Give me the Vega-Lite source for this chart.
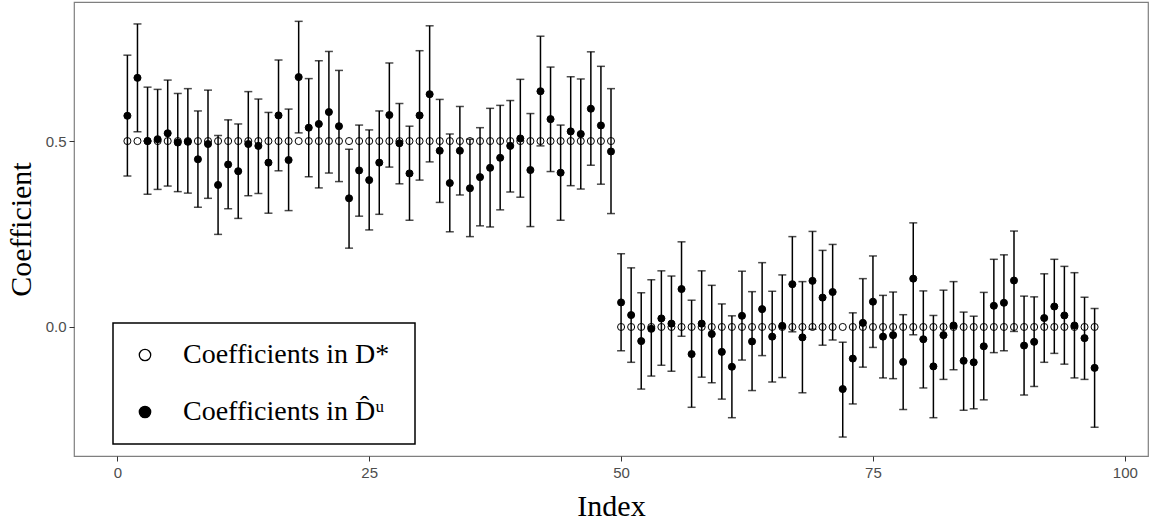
{
  "$schema": "https://vega.github.io/schema/vega-lite/v6.json",
  "width": 1074,
  "height": 454,
  "autosize": {"type": "none"},
  "padding": {"left": 74, "top": 2, "right": 2, "bottom": 68},
  "background": "white",
  "config": {
    "view": {"stroke": "#7f7f7f", "strokeWidth": 1.2},
    "axis": {
      "grid": false, "domain": false,
      "labelFont": "Liberation Sans", "labelFontSize": 15, "labelColor": "#4d4d4d",
      "tickColor": "#333333", "tickSize": 5, "tickWidth": 1,
      "titleFont": "Liberation Serif", "titleFontSize": 30, "titleFontWeight": "normal", "titleColor": "black"
    },
    "legend": {
      "orient": "none", "legendX": 39, "legendY": 321, "direction": "vertical",
      "fillColor": "white", "strokeColor": "black", "strokeWidth": 1.5,
      "padding": 18, "cornerRadius": 0,
      "labelFont": "Liberation Serif", "labelFontSize": 28, "labelColor": "black", "labelLimit": 400,
      "symbolSize": 130, "symbolStrokeWidth": 1.3, "symbolStrokeColor": "black", "symbolType": "circle",
      "rowPadding": 29, "labelOffset": 24, "symbolOffset": 0
    }
  },
  "data": {"values": [
    {"i":1,"est":0.568,"lo":0.406,"hi":0.731,"truth":0.5},
    {"i":2,"est":0.670,"lo":0.525,"hi":0.815,"truth":0.5},
    {"i":3,"est":0.500,"lo":0.357,"hi":0.645,"truth":0.5},
    {"i":4,"est":0.505,"lo":0.370,"hi":0.639,"truth":0.5},
    {"i":5,"est":0.521,"lo":0.379,"hi":0.664,"truth":0.5},
    {"i":6,"est":0.496,"lo":0.364,"hi":0.628,"truth":0.5},
    {"i":7,"est":0.498,"lo":0.360,"hi":0.641,"truth":0.5},
    {"i":8,"est":0.451,"lo":0.322,"hi":0.581,"truth":0.5},
    {"i":9,"est":0.492,"lo":0.346,"hi":0.637,"truth":0.5},
    {"i":10,"est":0.382,"lo":0.249,"hi":0.515,"truth":0.5},
    {"i":11,"est":0.437,"lo":0.318,"hi":0.557,"truth":0.5},
    {"i":12,"est":0.419,"lo":0.292,"hi":0.546,"truth":0.5},
    {"i":13,"est":0.492,"lo":0.353,"hi":0.633,"truth":0.5},
    {"i":14,"est":0.487,"lo":0.359,"hi":0.613,"truth":0.5},
    {"i":15,"est":0.442,"lo":0.306,"hi":0.577,"truth":0.5},
    {"i":16,"est":0.569,"lo":0.420,"hi":0.718,"truth":0.5},
    {"i":17,"est":0.449,"lo":0.313,"hi":0.586,"truth":0.5},
    {"i":18,"est":0.672,"lo":0.522,"hi":0.822,"truth":0.5},
    {"i":19,"est":0.536,"lo":0.404,"hi":0.668,"truth":0.5},
    {"i":20,"est":0.546,"lo":0.374,"hi":0.716,"truth":0.5},
    {"i":21,"est":0.578,"lo":0.414,"hi":0.741,"truth":0.5},
    {"i":22,"est":0.540,"lo":0.391,"hi":0.690,"truth":0.5},
    {"i":23,"est":0.346,"lo":0.212,"hi":0.478,"truth":0.5},
    {"i":24,"est":0.421,"lo":0.298,"hi":0.543,"truth":0.5},
    {"i":25,"est":0.395,"lo":0.261,"hi":0.530,"truth":0.5},
    {"i":26,"est":0.442,"lo":0.303,"hi":0.581,"truth":0.5},
    {"i":27,"est":0.570,"lo":0.430,"hi":0.710,"truth":0.5},
    {"i":28,"est":0.494,"lo":0.385,"hi":0.601,"truth":0.5},
    {"i":29,"est":0.413,"lo":0.287,"hi":0.540,"truth":0.5},
    {"i":30,"est":0.569,"lo":0.395,"hi":0.743,"truth":0.5},
    {"i":31,"est":0.626,"lo":0.444,"hi":0.810,"truth":0.5},
    {"i":32,"est":0.474,"lo":0.335,"hi":0.612,"truth":0.5},
    {"i":33,"est":0.387,"lo":0.256,"hi":0.519,"truth":0.5},
    {"i":34,"est":0.474,"lo":0.355,"hi":0.593,"truth":0.5},
    {"i":35,"est":0.373,"lo":0.243,"hi":0.505,"truth":0.5},
    {"i":36,"est":0.403,"lo":0.272,"hi":0.536,"truth":0.5},
    {"i":37,"est":0.428,"lo":0.269,"hi":0.588,"truth":0.5},
    {"i":38,"est":0.455,"lo":0.315,"hi":0.596,"truth":0.5},
    {"i":39,"est":0.487,"lo":0.363,"hi":0.609,"truth":0.5},
    {"i":40,"est":0.507,"lo":0.349,"hi":0.666,"truth":0.5},
    {"i":41,"est":0.422,"lo":0.270,"hi":0.574,"truth":0.5},
    {"i":42,"est":0.634,"lo":0.487,"hi":0.782,"truth":0.5},
    {"i":43,"est":0.559,"lo":0.418,"hi":0.699,"truth":0.5},
    {"i":44,"est":0.415,"lo":0.287,"hi":0.543,"truth":0.5},
    {"i":45,"est":0.526,"lo":0.380,"hi":0.673,"truth":0.5},
    {"i":46,"est":0.519,"lo":0.371,"hi":0.667,"truth":0.5},
    {"i":47,"est":0.587,"lo":0.435,"hi":0.740,"truth":0.5},
    {"i":48,"est":0.542,"lo":0.384,"hi":0.701,"truth":0.5},
    {"i":49,"est":0.472,"lo":0.305,"hi":0.641,"truth":0.5},
    {"i":50,"est":0.066,"lo":-0.064,"hi":0.197,"truth":0},
    {"i":51,"est":0.032,"lo":-0.095,"hi":0.159,"truth":0},
    {"i":52,"est":-0.038,"lo":-0.167,"hi":0.092,"truth":0},
    {"i":53,"est":-0.005,"lo":-0.132,"hi":0.127,"truth":0},
    {"i":54,"est":0.023,"lo":-0.103,"hi":0.151,"truth":0},
    {"i":55,"est":0.009,"lo":-0.119,"hi":0.137,"truth":0},
    {"i":56,"est":0.102,"lo":-0.025,"hi":0.229,"truth":0},
    {"i":57,"est":-0.073,"lo":-0.216,"hi":0.072,"truth":0},
    {"i":58,"est":0.009,"lo":-0.135,"hi":0.151,"truth":0},
    {"i":59,"est":-0.019,"lo":-0.150,"hi":0.112,"truth":0},
    {"i":60,"est":-0.067,"lo":-0.194,"hi":0.062,"truth":0},
    {"i":61,"est":-0.107,"lo":-0.244,"hi":0.030,"truth":0},
    {"i":62,"est":0.030,"lo":-0.089,"hi":0.150,"truth":0},
    {"i":63,"est":-0.039,"lo":-0.171,"hi":0.095,"truth":0},
    {"i":64,"est":0.048,"lo":-0.077,"hi":0.173,"truth":0},
    {"i":65,"est":-0.026,"lo":-0.148,"hi":0.096,"truth":0},
    {"i":66,"est":0.003,"lo":-0.136,"hi":0.140,"truth":0},
    {"i":67,"est":0.115,"lo":-0.013,"hi":0.243,"truth":0},
    {"i":68,"est":-0.028,"lo":-0.177,"hi":0.122,"truth":0},
    {"i":69,"est":0.124,"lo":-0.006,"hi":0.257,"truth":0},
    {"i":70,"est":0.079,"lo":-0.049,"hi":0.206,"truth":0},
    {"i":71,"est":0.094,"lo":-0.035,"hi":0.222,"truth":0},
    {"i":72,"est":-0.167,"lo":-0.296,"hi":-0.041,"truth":0},
    {"i":73,"est":-0.085,"lo":-0.207,"hi":0.038,"truth":0},
    {"i":74,"est":0.011,"lo":-0.108,"hi":0.130,"truth":0},
    {"i":75,"est":0.068,"lo":-0.055,"hi":0.191,"truth":0},
    {"i":76,"est":-0.026,"lo":-0.137,"hi":0.085,"truth":0},
    {"i":77,"est":-0.022,"lo":-0.139,"hi":0.094,"truth":0},
    {"i":78,"est":-0.094,"lo":-0.222,"hi":0.033,"truth":0},
    {"i":79,"est":0.130,"lo":-0.021,"hi":0.280,"truth":0},
    {"i":80,"est":-0.033,"lo":-0.164,"hi":0.097,"truth":0},
    {"i":81,"est":-0.106,"lo":-0.244,"hi":0.031,"truth":0},
    {"i":82,"est":-0.022,"lo":-0.141,"hi":0.099,"truth":0},
    {"i":83,"est":0.004,"lo":-0.115,"hi":0.122,"truth":0},
    {"i":84,"est":-0.091,"lo":-0.224,"hi":0.040,"truth":0},
    {"i":85,"est":-0.095,"lo":-0.220,"hi":0.029,"truth":0},
    {"i":86,"est":-0.052,"lo":-0.196,"hi":0.093,"truth":0},
    {"i":87,"est":0.057,"lo":-0.069,"hi":0.182,"truth":0},
    {"i":88,"est":0.065,"lo":-0.064,"hi":0.194,"truth":0},
    {"i":89,"est":0.125,"lo":-0.012,"hi":0.258,"truth":0},
    {"i":90,"est":-0.050,"lo":-0.183,"hi":0.083,"truth":0},
    {"i":91,"est":-0.040,"lo":-0.160,"hi":0.081,"truth":0},
    {"i":92,"est":0.024,"lo":-0.095,"hi":0.143,"truth":0},
    {"i":93,"est":0.055,"lo":-0.071,"hi":0.182,"truth":0},
    {"i":94,"est":0.031,"lo":-0.100,"hi":0.163,"truth":0},
    {"i":95,"est":0.004,"lo":-0.137,"hi":0.146,"truth":0},
    {"i":96,"est":-0.030,"lo":-0.141,"hi":0.080,"truth":0},
    {"i":97,"est":-0.110,"lo":-0.270,"hi":0.050,"truth":0}
  ]},
  "encoding": {
    "x": {"field": "i", "type": "quantitative",
      "scale": {"domain": [-4.3, 102.3], "nice": false, "zero": false},
      "axis": {"values": [0, 25, 50, 75, 100], "title": "Index", "titlePadding": 11, "labelPadding": 4}}
  },
  "layer": [
    {
      "mark": {"type": "rule", "color": "black", "strokeWidth": 1.5},
      "encoding": {
        "y": {"field": "lo", "type": "quantitative",
          "scale": {"domain": [-0.347, 0.874], "nice": false, "zero": false},
          "axis": {"values": [0, 0.5], "format": ".1f", "title": "Coefficient", "titlePadding": 9, "labelPadding": 3}},
        "y2": {"field": "hi"}
      }
    },
    {
      "mark": {"type": "tick", "orient": "horizontal", "color": "black", "size": 8, "thickness": 1.5},
      "encoding": {"y": {"field": "lo", "type": "quantitative"}}
    },
    {
      "mark": {"type": "tick", "orient": "horizontal", "color": "black", "size": 8, "thickness": 1.5},
      "encoding": {"y": {"field": "hi", "type": "quantitative"}}
    },
    {
      "transform": [{"fold": ["truth", "est"], "as": ["key", "val"]}],
      "mark": {"type": "point", "shape": "circle", "filled": true, "stroke": "black", "strokeWidth": 1, "size": 50, "opacity": 1},
      "encoding": {
        "y": {"field": "val", "type": "quantitative"},
        "fill": {"field": "key", "type": "nominal",
          "scale": {"domain": ["truth", "est"], "range": ["rgba(255,255,255,0)", "black"]},
          "legend": {"title": null,
            "labelExpr": "datum.value == 'truth' ? 'Coefficients in  D*' : 'Coefficients in  D\u0302\u1d58'"}}
      }
    }
  ]
}
